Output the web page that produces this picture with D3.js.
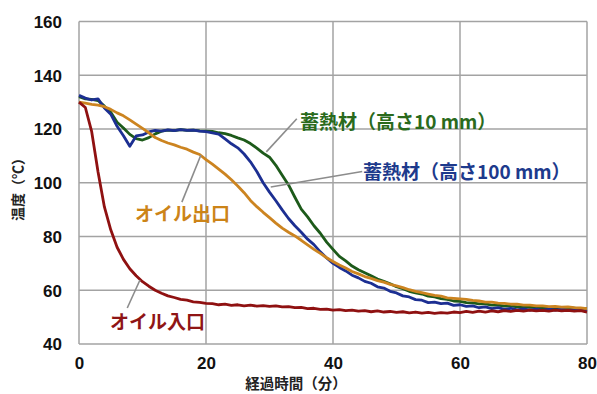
<!DOCTYPE html>
<html><head><meta charset="utf-8">
<script src="https://cdn.jsdelivr.net/npm/d3@7"></script>
<style>
html,body{margin:0;padding:0;background:#fff;}
svg{display:block;}
text{font-family:"Noto Sans CJK JP","Liberation Sans",Arial,sans-serif;}
</style></head>
<body>
<svg id="chart" width="597" height="394"></svg>
<script>
// ---- data ----
const minutes = d3.range(0, 81);
const oilInlet = [130,128,119,104,91,82.5,76,71.5,68,65.4,63.2,61.5,60,58.9,57.9,57.3,56.6,56.3,55.7,55.5,
 55.1,55.0,54.6,54.8,54.4,54.6,54.2,54.5,54.1,54.3,54.0,54.2,53.8,53.9,53.5,53.6,53.2,53.3,52.9,53.0,
 52.6,52.8,52.4,52.6,52.2,52.4,52.0,52.3,51.9,52.1,51.8,52.0,51.6,51.9,51.5,51.8,51.4,51.7,51.5,51.9,
 51.7,52.1,51.8,52.2,51.9,52.3,52.0,52.4,52.1,52.5,52.2,52.6,52.3,52.5,52.2,52.6,52.3,52.5,52.2,52.4,51.9];
const oilOutlet = [130,129.6,129.2,128.9,128.3,127.3,126,124.9,123.4,121.8,120.2,118.6,116.8,115.7,114.8,114.1,113.2,112.5,111.4,110.5,
 108.6,106.9,105.1,103.2,101.1,98.8,96.3,93.4,91.1,89.0,87.0,85.0,83.1,81.6,80.2,78.6,76.9,75.2,73.7,72.1,
 70.7,69.4,68.3,67.0,66.1,65.1,64.4,63.6,63.0,62.2,61.6,61.0,60.2,59.6,59.1,58.6,58.1,57.8,57.2,57.0,
 56.8,56.6,56.2,56.0,55.6,55.6,55.2,55.1,54.8,54.8,54.5,54.5,54.2,54.2,53.9,54.0,53.7,53.8,53.5,53.4,53.2];
const storage100 = [132.5,131.5,130.8,131.2,127.8,125.5,121,117.5,113.6,117.4,117.8,118.9,119.5,119.2,119.7,119.4,119.8,119.5,119.6,119.2,
 119.0,118.6,118.1,116.3,114.5,113.0,110.7,107.8,104.2,100.0,96.5,93.3,89.9,86.7,84.0,81.6,79.0,77.0,74.3,72.0,
 70.0,68.5,67.2,65.6,64.6,63.3,62.6,61.3,60.8,59.6,59.0,57.9,57.5,56.5,56.3,55.4,55.6,55.0,55.2,54.4,
 54.6,54.0,54.2,53.5,53.8,53.2,53.5,52.9,53.3,52.7,53.1,52.6,53.0,52.5,53.0,52.6,53.0,52.5,52.9,52.6,52.9];
const storage10 = [132,131.2,131.0,130.6,128.5,126.2,122.5,120.4,118.0,116.4,115.9,116.8,118.2,119.2,119.6,119.4,119.8,119.5,119.6,119.3,
 119.2,119.1,118.6,118.3,117.6,116.7,115.9,114.6,112.9,111.0,109.5,106.5,102.8,99.2,94.6,90.2,87.3,84.0,81.2,77.9,
 75.2,72.6,70.9,69.0,67.6,66.5,65.4,64.2,63.3,62.4,61.3,60.6,59.6,59.0,58.6,57.8,57.5,56.9,56.6,56.0,
 55.9,55.4,55.3,54.9,54.9,54.5,54.5,54.1,54.2,53.8,53.9,53.6,53.7,53.4,53.5,53.3,53.4,53.2,53.3,53.1,53.2];
const xTicks = [0, 20, 40, 60, 80];
const yTicks = [40, 60, 80, 100, 120, 140, 160];
const seriesNames = ["蓄熱材（高さ10 mm）", "蓄熱材（高さ100 mm）", "オイル出口", "オイル入口"];
const xTitle = "経過時間（分）";
const yTitle = "温度（℃）";

// ---- chart ----
const svg = d3.select("#chart");
const x = d3.scaleLinear().domain([0, 80]).range([79, 587]);
const y = d3.scaleLinear().domain([40, 160]).range([344, 21.5]);
const grid = "#a3a3a3";

// gridlines
svg.append("g").selectAll("line").data(yTicks).join("line")
  .attr("x1", x(0)).attr("x2", x(80)).attr("y1", d => y(d)).attr("y2", d => y(d))
  .attr("stroke", grid).attr("stroke-width", 1.5);
svg.append("g").selectAll("line").data(xTicks).join("line")
  .attr("x1", d => x(d)).attr("x2", d => x(d)).attr("y1", y(40)).attr("y2", y(160))
  .attr("stroke", grid).attr("stroke-width", 1.5);

// axes (labels only)
const yAxis = d3.axisLeft(y).tickValues(yTicks).tickSize(0).tickPadding(17);
const gy = svg.append("g").attr("transform", `translate(${x(0)},0)`).call(yAxis);
gy.select(".domain").remove();
gy.selectAll("text").attr("font-size", 17).attr("font-weight", "bold").attr("fill", "#111")
  .style("font-family", "'Liberation Sans',Arial,sans-serif").attr("dy", "0.35em");

const xAxis = d3.axisBottom(x).tickValues(xTicks).tickSize(0).tickPadding(13);
const gx = svg.append("g").attr("transform", `translate(0,${y(40)})`).call(xAxis);
gx.select(".domain").remove();
gx.selectAll("text").attr("font-size", 17).attr("font-weight", "bold").attr("fill", "#111")
  .style("font-family", "'Liberation Sans',Arial,sans-serif");

// axis titles
svg.append("text").attr("x", 296).attr("y", 389).attr("text-anchor", "middle")
  .attr("font-size", 14.5).attr("font-weight", "bold").attr("fill", "#222").text(xTitle);
svg.append("text").attr("transform", "translate(23,186) rotate(-90)").attr("text-anchor", "middle")
  .attr("font-size", 14).attr("font-weight", "bold").attr("fill", "#222").text(yTitle);

// lines
const colors = ["#1d5a1a", "#1c2f92", "#cc8420", "#8f1111"];
const data = [storage10, storage100, oilOutlet, oilInlet];
const line = d3.line().x((d, i) => x(minutes[i])).y(d => y(d));
svg.append("g").selectAll("path").data(data).join("path")
  .attr("d", d => line(d)).attr("fill", "none")
  .attr("stroke", (d, i) => colors[i]).attr("stroke-width", 2.8)
  .attr("stroke-linejoin", "round");

// leader lines
const leader = "#8c8c8c";
const leaders = [
  [[29.5, 111.5], [34.3, 123.8]],
  [[30.2, 98.4], [44.6, 104.2]],
  [[19.2, 110.3], [16.2, 92.8]],
  [[9.6, 63.8], [7.6, 53.4]]
];
svg.append("g").selectAll("line").data(leaders).join("line")
  .attr("x1", d => x(d[0][0])).attr("y1", d => y(d[0][1]))
  .attr("x2", d => x(d[1][0])).attr("y2", d => y(d[1][1]))
  .attr("stroke", leader).attr("stroke-width", 1.6);

// annotation labels
const labelColors = ["#2a6a1c", "#1d3a8c", "#cc8418", "#8f1515"];
const labelPos = [[300, 129], [363, 179], [135, 221], [110, 329]];
svg.append("g").selectAll("text").data(seriesNames).join("text")
  .attr("x", (d, i) => labelPos[i][0]).attr("y", (d, i) => labelPos[i][1])
  .attr("font-size", 19).attr("font-weight", "bold")
  .attr("fill", (d, i) => labelColors[i]).text(d => d);
</script>
</body></html>
